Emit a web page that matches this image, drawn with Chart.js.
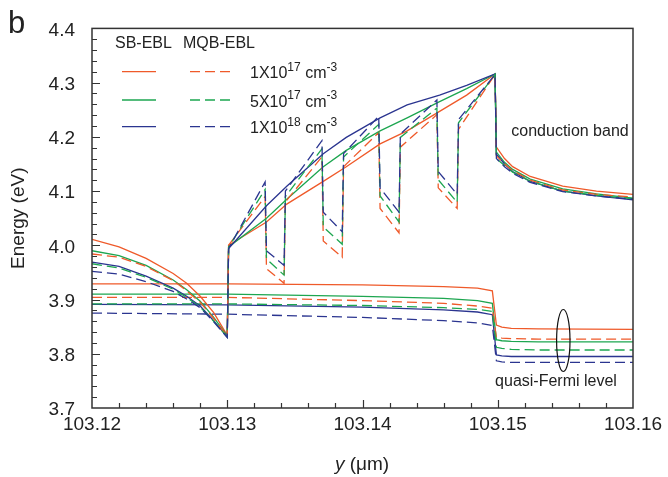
<!DOCTYPE html>
<html>
<head>
<meta charset="utf-8">
<script src="https://cdn.jsdelivr.net/npm/chart.js@4.4.1/dist/chart.umd.min.js"></script>
<style>
  html, body { margin: 0; padding: 0; background: #fff; }
</style>
</head>
<body>
<canvas id="c" width="668" height="477"></canvas>
<script>
// Band diagram: SB-EBL (solid) vs MQB-EBL (dashed), three doping levels.
// Values.

const RED = "#ef5a2a", GREEN = "#1da650", BLUE = "#2b3590";
const FONT = "'Liberation Sans', Arial, Helvetica, sans-serif";

const X_MIN = 103.12, X_MAX = 103.16;
const Y_MIN = 3.7, Y_MAX = 4.4;

// --- conduction band, left of the EBL (x shared by all six curves)
const xCbLeft = [103.12, 103.122, 103.124, 103.126, 103.127, 103.128, 103.129, 103.13];
const cbLeftRedSB    = [4.011, 3.997, 3.976, 3.948, 3.930, 3.906, 3.876, 3.834];
const cbLeftGreenSB  = [3.990, 3.981, 3.963, 3.936, 3.918, 3.897, 3.867, 3.833];
const cbLeftBlueSB   = [3.969, 3.961, 3.943, 3.921, 3.906, 3.888, 3.861, 3.831];
const cbLeftRedMQB   = [3.984, 3.978, 3.961, 3.935, 3.916, 3.895, 3.865, 3.832];
const cbLeftGreenMQB = [3.966, 3.958, 3.941, 3.919, 3.904, 3.886, 3.860, 3.831];
const cbLeftBlueMQB  = [3.952, 3.947, 3.933, 3.915, 3.901, 3.885, 3.859, 3.830];

// --- conduction band inside the EBL, SB-EBL
const xCbMidSB = [103.1301, 103.1329, 103.1344, 103.1371, 103.1388, 103.1413, 103.1433, 103.1457, 103.1477, 103.1498];
const cbMidRedSB   = [4.000, 4.043, 4.076, 4.118, 4.145, 4.187, 4.211, 4.247, 4.277, 4.316];
const cbMidGreenSB = [3.997, 4.050, 4.085, 4.145, 4.175, 4.211, 4.235, 4.265, 4.289, 4.316];
const cbMidBlueSB  = [3.994, 4.073, 4.109, 4.169, 4.199, 4.235, 4.259, 4.277, 4.295, 4.316];

// --- conduction band inside the EBL, MQB-EBL (four wells)
const xCbMidMQB = [103.1301, 103.1328, 103.1329, 103.1342, 103.1343, 103.1370, 103.1371, 103.1385, 103.1386,
                   103.1412, 103.1413, 103.1427, 103.1428, 103.1455, 103.1456, 103.1470, 103.1471, 103.1498];
const cbMidRedMQB   = [4.000, 4.090, 3.957, 3.930, 4.080, 4.163, 4.008, 3.978, 4.145,
                       4.208, 4.068, 4.023, 4.181, 4.241, 4.106, 4.068, 4.214, 4.315];
const cbMidGreenMQB = [3.997, 4.103, 3.975, 3.945, 4.090, 4.178, 4.034, 4.002, 4.163,
                       4.223, 4.091, 4.043, 4.199, 4.253, 4.121, 4.079, 4.226, 4.315];
const cbMidBlueMQB  = [3.994, 4.117, 3.990, 3.963, 4.100, 4.193, 4.061, 4.025, 4.169,
                       4.238, 4.106, 4.061, 4.205, 4.268, 4.136, 4.094, 4.232, 4.315];

// --- conduction band right of the EBL
const xCbRight = [103.1499, 103.1505, 103.1511, 103.1524, 103.1548, 103.1573, 103.16];
const cbRightRedSB    = [4.181, 4.160, 4.145, 4.127, 4.109, 4.100, 4.094];
const cbRightGreenSB  = [4.172, 4.153, 4.140, 4.122, 4.104, 4.095, 4.087];
const cbRightBlueSB   = [4.168, 4.150, 4.136, 4.118, 4.100, 4.091, 4.084];
const cbRightRedMQB   = [4.165, 4.150, 4.138, 4.120, 4.102, 4.094, 4.089];
const cbRightGreenMQB = [4.160, 4.147, 4.135, 4.118, 4.100, 4.092, 4.086];
const cbRightBlueMQB  = [4.160, 4.145, 4.133, 4.116, 4.099, 4.091, 4.085];

// --- quasi-Fermi levels
const xQfl = [103.12, 103.13, 103.14, 103.146, 103.1485, 103.1496, 103.1499, 103.1503, 103.151, 103.153, 103.16];
const qflRedSB    = [3.929, 3.929, 3.927, 3.924, 3.921, 3.916, 3.853, 3.849, 3.847, 3.846, 3.845];
const qflGreenSB  = [3.910, 3.910, 3.906, 3.902, 3.898, 3.893, 3.826, 3.824, 3.823, 3.822, 3.822];
const qflBlueSB   = [3.891, 3.890, 3.886, 3.881, 3.877, 3.872, 3.798, 3.796, 3.795, 3.795, 3.795];
const qflRedMQB   = [3.904, 3.904, 3.898, 3.893, 3.888, 3.884, 3.830, 3.829, 3.828, 3.827, 3.827];
const qflGreenMQB = [3.892, 3.892, 3.889, 3.885, 3.882, 3.878, 3.812, 3.810, 3.808, 3.807, 3.807];
const qflBlueMQB  = [3.875, 3.873, 3.867, 3.861, 3.857, 3.852, 3.787, 3.785, 3.784, 3.784, 3.784];

const dopingLabels = [["1X10", "17"], ["5X10", "17"], ["1X10", "18"]];

// --- helpers
function pts(xs, ys) {
  return xs.map((x, i) => ({ x, y: ys[i] }));
}
function line(color, dashed, data) {
  return {
    data, borderColor: color, borderWidth: 1.3,
    borderDash: dashed ? [10, 5] : [],
    pointRadius: 0, fill: false, tension: 0
  };
}
function cb(left, mid, right, xMid) {
  return pts([...xCbLeft, ...xMid, ...xCbRight], [...left, ...mid, ...right]);
}

const datasets = [
  line(BLUE,  true,  cb(cbLeftBlueMQB,  cbMidBlueMQB,  cbRightBlueMQB,  xCbMidMQB)),
  line(GREEN, true,  cb(cbLeftGreenMQB, cbMidGreenMQB, cbRightGreenMQB, xCbMidMQB)),
  line(RED,   true,  cb(cbLeftRedMQB,   cbMidRedMQB,   cbRightRedMQB,   xCbMidMQB)),
  line(BLUE,  false, cb(cbLeftBlueSB,   cbMidBlueSB,   cbRightBlueSB,   xCbMidSB)),
  line(GREEN, false, cb(cbLeftGreenSB,  cbMidGreenSB,  cbRightGreenSB,  xCbMidSB)),
  line(RED,   false, cb(cbLeftRedSB,    cbMidRedSB,    cbRightRedSB,    xCbMidSB)),
  line(BLUE,  true,  pts(xQfl, qflBlueMQB)),
  line(GREEN, true,  pts(xQfl, qflGreenMQB)),
  line(RED,   true,  pts(xQfl, qflRedMQB)),
  line(BLUE,  false, pts(xQfl, qflBlueSB)),
  line(GREEN, false, pts(xQfl, qflGreenSB)),
  line(RED,   false, pts(xQfl, qflRedSB)),
];

// text with superscripts: parts = [[text, isSup], ...]
function drawRich(ctx, parts, x, base, size) {
  for (const [t, sup] of parts) {
    ctx.font = (sup ? Math.round(size * 0.72) : size) + "px " + FONT;
    ctx.fillText(t, x, sup ? base - size * 0.45 : base);
    x += ctx.measureText(t).width;
  }
}

// frame, inward ticks, legend, annotations
const decor = {
  id: "decor",
  afterDatasetsDraw(chart) {
    const { ctx, chartArea: a, scales: { x, y } } = chart;
    ctx.save();
    ctx.strokeStyle = "#333";
    ctx.lineWidth = 1.5;
    ctx.setLineDash([]);
    ctx.strokeRect(a.left, a.top, a.right - a.left, a.bottom - a.top);

    ctx.lineWidth = 1.2;
    ctx.beginPath();
    for (let i = 1; i < 20; i++) {
      const px = Math.round(x.getPixelForValue(X_MIN + i * 0.002)) + 0.5;
      const len = i % 5 === 0 ? 8 : 5;
      ctx.moveTo(px, a.bottom);
      ctx.lineTo(px, a.bottom - len);
    }
    for (let i = 1; i < 35; i++) {
      const py = Math.round(y.getPixelForValue(Y_MIN + i * 0.02)) + 0.5;
      const len = i % 5 === 0 ? 8 : 5;
      ctx.moveTo(a.left, py);
      ctx.lineTo(a.left + len, py);
    }
    ctx.stroke();

    // legend
    ctx.fillStyle = "#222";
    ctx.textBaseline = "alphabetic";
    ctx.textAlign = "left";
    ctx.font = "16px " + FONT;
    ctx.fillText("SB-EBL", 115, 47.5);
    ctx.fillText("MQB-EBL", 183, 47.5);
    const colors = [RED, GREEN, BLUE];
    const rowY = [71.7, 100, 126.7];
    colors.forEach((c, i) => {
      ctx.strokeStyle = c;
      ctx.lineWidth = 1.3;
      ctx.setLineDash([]);
      ctx.beginPath(); ctx.moveTo(122, rowY[i]); ctx.lineTo(156, rowY[i]); ctx.stroke();
      ctx.setLineDash([10, 5]);
      ctx.beginPath(); ctx.moveTo(190, rowY[i]); ctx.lineTo(233, rowY[i]); ctx.stroke();
      ctx.fillStyle = "#222";
      const [base, exp] = dopingLabels[i];
      drawRich(ctx, [[base, false], [exp, true], [" cm", false], ["-3", true]], 250, rowY[i] + 6.5, 16);
    });
    ctx.setLineDash([]);

    // annotations
    ctx.font = "16px " + FONT;
    ctx.textAlign = "center";
    ctx.fillText("conduction band", 570, 135.5);
    ctx.fillText("quasi-Fermi level", 556, 386);

    ctx.strokeStyle = "#111";
    ctx.lineWidth = 1.2;
    ctx.beginPath();
    ctx.ellipse(563.3, 340.5, 6.7, 31, 0, 0, Math.PI * 2);
    ctx.stroke();

    // panel letter
    ctx.textAlign = "left";
    ctx.font = "31px " + FONT;
    ctx.fillText("b", 8, 33);

    // x axis title with italic y
    ctx.font = "italic 19px " + FONT;
    const w1 = ctx.measureText("y").width;
    ctx.font = "19px " + FONT;
    const w2 = ctx.measureText(" (\u03bcm)").width;
    const x0 = 362 - (w1 + w2) / 2;
    ctx.font = "italic 19px " + FONT;
    ctx.fillText("y", x0, 470);
    ctx.font = "19px " + FONT;
    ctx.fillText(" (\u03bcm)", x0 + w1, 470);
    ctx.restore();
  }
};

new Chart(document.getElementById("c"), {
  type: "line",
  data: { datasets },
  options: {
    responsive: false,
    animation: false,
    devicePixelRatio: 1,
    layout: { padding: { top: 18, right: 35, left: 0, bottom: 0 } },
    plugins: { legend: { display: false }, tooltip: { enabled: false } },
    scales: {
      x: {
        type: "linear", min: X_MIN, max: X_MAX,
        grid: { display: false, drawTicks: false },
        border: { display: false },
        ticks: {
          stepSize: 0.01, padding: 5, color: "#222",
          font: { family: FONT, size: 19 },
          maxRotation: 0,
          callback: v => v.toFixed(2)
        },
        afterFit: s => { s.height = 69; }
      },
      y: {
        type: "linear", min: Y_MIN, max: Y_MAX,
        grid: { display: false, drawTicks: false },
        border: { display: false },
        ticks: {
          stepSize: 0.1, padding: 17, color: "#222", labelOffset: 2,
          font: { family: FONT, size: 19 },
          callback: v => v.toFixed(1)
        },
        title: {
          display: true, text: "Energy (eV)", color: "#222",
          font: { family: FONT, size: 19 },
          padding: { top: 7, bottom: 0 }
        },
        afterFit: s => { s.width = 92; }
      }
    }
  },
  plugins: [decor]
});
</script>
</body>
</html>
